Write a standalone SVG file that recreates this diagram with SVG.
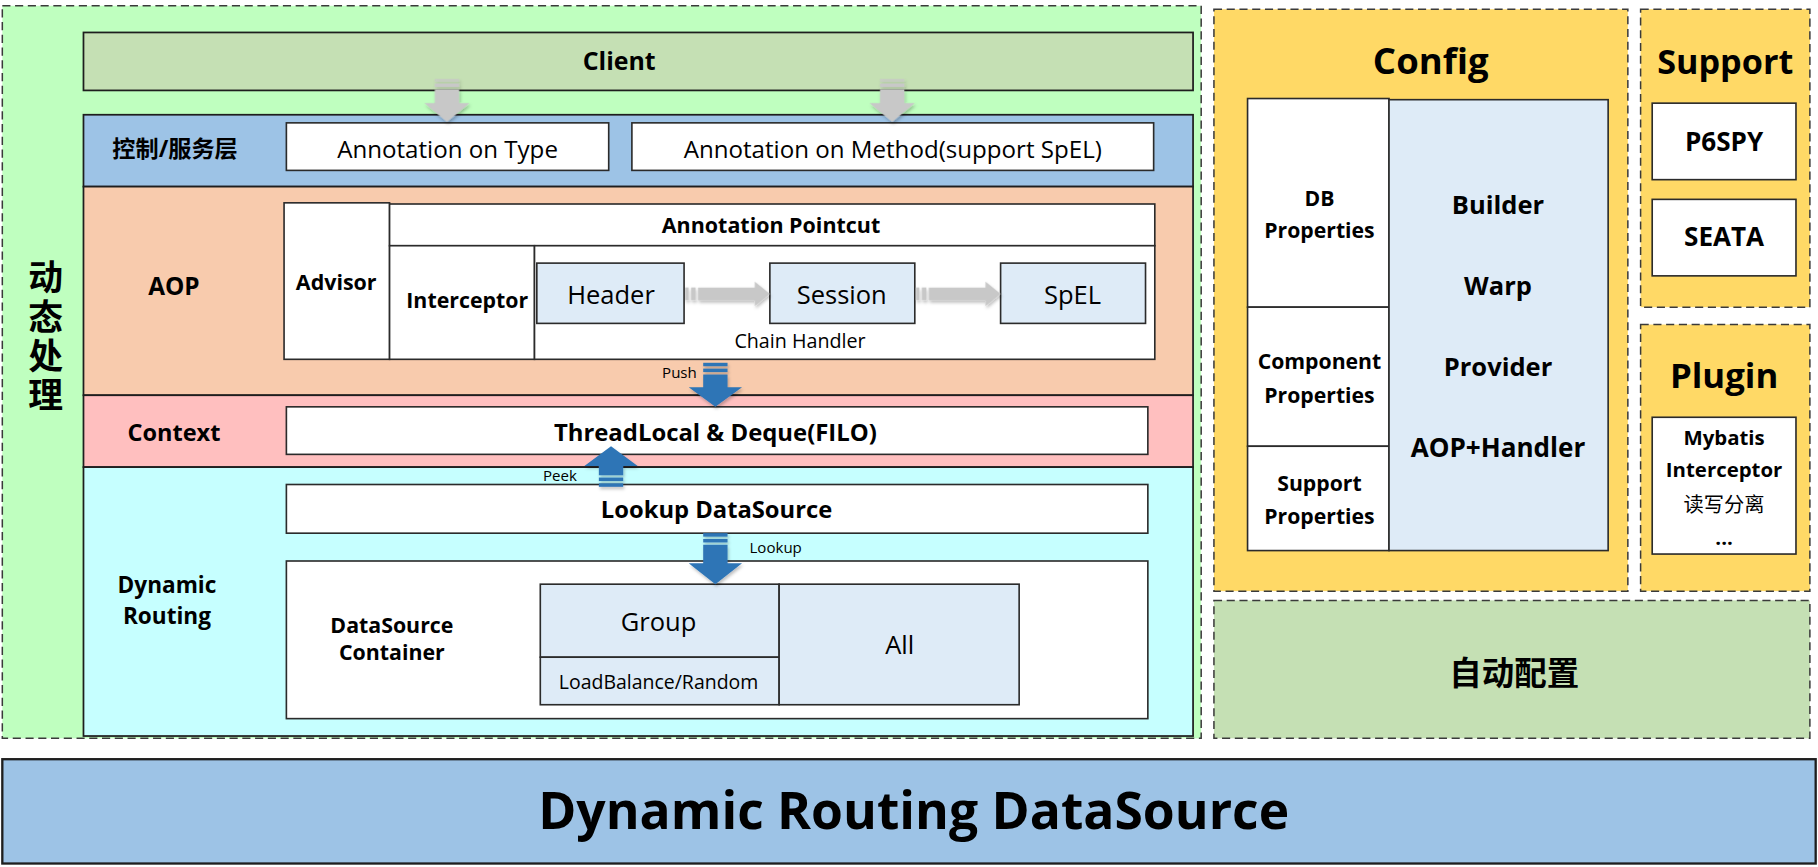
<svg xmlns="http://www.w3.org/2000/svg" width="1818" height="867" viewBox="0 0 1818 867">
<defs>
<style>
.t{font-family:"Open Sans","Noto Sans CJK SC",sans-serif;text-anchor:middle;dominant-baseline:central;fill:#000}
.b{font-weight:700}
.n{font-weight:400}
.dash{stroke:#3a3a3a;stroke-width:1.3;stroke-dasharray:7 4}
.bx{stroke:#2b2b2b;stroke-width:1.4}
.band{stroke:#1e1e1e;stroke-width:1.5}
.wh{fill:#fff}
.lb{fill:#DEEBF7}
.blue{fill:#2E75B6}
.gray{fill:#C8C8C8}
</style>
<filter id="sh" x="-30%" y="-30%" width="160%" height="160%">
<feDropShadow dx="1" dy="2" stdDeviation="1.5" flood-color="#000" flood-opacity="0.25"/>
</filter>
</defs>
<rect width="1818" height="867" fill="#fff"/>
<g transform="scale(1.15944,1.15909)">

<g id="dynamic-processing">
<rect x="2" y="5" width="1034" height="632" fill="#BFFFBF" class="dash"/>
<text class="t b" x="38" y="292" font-size="30" letter-spacing="4" style="writing-mode:vertical-rl">动态处理</text>
</g>

<g id="client">
<rect x="72" y="28" width="957" height="50" fill="#C5E0B4" class="band"/>
<text class="t b" x="534" y="52" font-size="21.5">Client</text>
</g>

<g id="service-layer">
<rect x="72" y="99" width="957" height="62" fill="#9DC3E6" class="band"/>
<text class="t b" x="151" y="128" font-size="20">控制/服务层</text>
</g>
<g id="annotation-type">
<rect x="247" y="106" width="278" height="41" class="wh bx"/>
<text class="t n" x="386" y="128" font-size="20.8">Annotation on Type</text>
</g>
<g id="annotation-method">
<rect x="545" y="106" width="450" height="41" class="wh bx"/>
<text class="t n" x="770" y="128" font-size="20.8">Annotation on Method(support SpEL)</text>
</g>

<g id="aop">
<rect x="72" y="161" width="957" height="180" fill="#F8CBAD" class="band"/>
<text class="t b" x="150" y="246" font-size="21">AOP</text>
</g>
<g id="advisor">
<rect x="245" y="175" width="91" height="135" class="wh bx"/>
<text class="t b" x="290" y="243" font-size="18.5">Advisor</text>
</g>
<g id="annotation-pointcut">
<rect x="336" y="176" width="660" height="36" class="wh bx"/>
<text class="t b" x="665" y="194" font-size="18.5">Annotation Pointcut</text>
</g>
<g id="interceptor">
<rect x="336" y="212" width="125" height="98" class="wh bx"/>
<text class="t b" x="403" y="258" font-size="18.4">Interceptor</text>
</g>
<g id="chain-handler">
<rect x="461" y="212" width="535" height="98" class="wh bx"/>
<text class="t n" x="690" y="294" font-size="17">Chain Handler</text>
</g>
<g id="header">
<rect x="463" y="227" width="127" height="52" class="lb bx"/>
<text class="t n" x="527" y="254" font-size="22">Header</text>
</g>
<g id="session">
<rect x="664" y="227" width="125" height="52" class="lb bx"/>
<text class="t n" x="726" y="254" font-size="22">Session</text>
</g>
<g id="spel">
<rect x="863" y="227" width="125" height="52" class="lb bx"/>
<text class="t n" x="925" y="254" font-size="22">SpEL</text>
</g>

<g id="context">
<rect x="72" y="341" width="957" height="62" fill="#FFBFBF" class="band"/>
<text class="t b" x="150" y="373" font-size="20.3">Context</text>
</g>
<g id="threadlocal">
<rect x="247" y="351" width="743" height="41" class="wh bx"/>
<text class="t b" x="617" y="372" font-size="20.6">ThreadLocal &amp; Deque(FILO)</text>
</g>

<g id="dynamic-routing">
<rect x="72" y="403" width="957" height="232" fill="#C6FFFF" class="band"/>
<text class="t b" x="144" y="504" font-size="19.5">Dynamic</text>
<text class="t b" x="144" y="531" font-size="19.5">Routing</text>
</g>
<g id="lookup-datasource">
<rect x="247" y="418" width="743" height="42" class="wh bx"/>
<text class="t b" x="618" y="439" font-size="20.5">Lookup DataSource</text>
</g>
<g id="datasource-container">
<rect x="247" y="484" width="743" height="136" class="wh bx"/>
<text class="t b" x="338" y="539" font-size="18.4">DataSource</text>
<text class="t b" x="338" y="562" font-size="18.4">Container</text>
</g>
<g id="group">
<rect x="466" y="504" width="206" height="63" class="lb bx"/>
<text class="t n" x="568" y="536" font-size="22">Group</text>
</g>
<g id="loadbalance">
<rect x="466" y="567" width="206" height="41" class="lb bx"/>
<text class="t n" x="568" y="588" font-size="16.8">LoadBalance/Random</text>
</g>
<g id="all">
<rect x="672" y="504" width="207" height="104" class="lb bx"/>
<text class="t n" x="776" y="556" font-size="22">All</text>
</g>

<g id="config">
<rect x="1047" y="8" width="357" height="502" fill="#FFD966" class="dash"/>
<text class="t b" x="1234" y="52" font-size="31.5">Config</text>
</g>
<g id="db-properties">
<rect x="1076" y="85" width="122" height="180" class="wh bx"/>
<text class="t b" x="1138" y="170" font-size="18.3">DB</text>
<text class="t b" x="1138" y="198" font-size="18.3">Properties</text>
</g>
<g id="component-properties">
<rect x="1076" y="265" width="122" height="120" class="wh bx"/>
<text class="t b" x="1138" y="311" font-size="18.3">Component</text>
<text class="t b" x="1138" y="340" font-size="18.3">Properties</text>
</g>
<g id="support-properties">
<rect x="1076" y="385" width="122" height="90" class="wh bx"/>
<text class="t b" x="1138" y="416" font-size="18.3">Support</text>
<text class="t b" x="1138" y="445" font-size="18.3">Properties</text>
</g>
<g id="builder">
<rect x="1198" y="86" width="189" height="389" class="lb bx"/>
<text class="t b" x="1292" y="176" font-size="22">Builder</text>
<text class="t b" x="1292" y="246" font-size="22">Warp</text>
<text class="t b" x="1292" y="316" font-size="22">Provider</text>
<text class="t b" x="1292" y="386" font-size="22.5">AOP+Handler</text>
</g>

<g id="support">
<rect x="1415" y="8" width="146" height="257" fill="#FFD966" class="dash"/>
<text class="t b" x="1488" y="52" font-size="29.5">Support</text>
</g>
<g id="p6spy">
<rect x="1425" y="89" width="124" height="66" class="wh bx"/>
<text class="t b" x="1487" y="122" font-size="22.5">P6SPY</text>
</g>
<g id="seata">
<rect x="1425" y="172" width="124" height="66" class="wh bx"/>
<text class="t b" x="1487" y="204" font-size="22.5">SEATA</text>
</g>

<g id="plugin">
<rect x="1415" y="280" width="146" height="230" fill="#FFD966" class="dash"/>
<text class="t b" x="1487" y="323" font-size="30">Plugin</text>
</g>
<g id="mybatis-interceptor">
<rect x="1425" y="360" width="124" height="118" class="wh bx"/>
<text class="t b" x="1487" y="377" font-size="17.6">Mybatis</text>
<text class="t b" x="1487" y="405" font-size="17.6">Interceptor</text>
<text class="t n" x="1487" y="435" font-size="17.5">读写分离</text>
<text class="t b" x="1487" y="463" font-size="17.6">...</text>
</g>

<g id="auto-config">
<rect x="1047" y="518" width="514" height="119" fill="#C5E0B4" class="dash"/>
<text class="t b" x="1306" y="580" font-size="28">自动配置</text>
</g>

<g id="dynamic-routing-datasource">
<rect x="2" y="655" width="1564" height="90" fill="#9DC3E6" stroke="#1e1e1e" stroke-width="2"/>
<text class="t b" x="788" y="698" font-size="44.5">Dynamic Routing DataSource</text>
</g>

<g id="connectors">
<g class="gray" filter="url(#sh)">
<rect x="375" y="68" width="21" height="2.5" opacity="0.7"/>
<rect x="375" y="72" width="21" height="3"/>
<path d="M375,77 H396 V89 H405 L385.5,105 L366,89 H375 Z"/>
<rect x="759" y="68" width="21" height="2.5" opacity="0.7"/>
<rect x="759" y="72" width="21" height="3"/>
<path d="M759,77 H780 V89 H789 L769.5,105 L750,89 H759 Z"/>
<rect x="591" y="248" width="3" height="11"/>
<rect x="596" y="248" width="4" height="11"/>
<path d="M602,248 H651 V243 L664,253.5 L651,264 V259 H602 Z"/>
<rect x="790" y="248" width="3" height="11"/>
<rect x="795" y="248" width="4" height="11"/>
<path d="M801,248 H850 V243 L863,253.5 L850,264 V259 H801 Z"/>
</g>
<g class="blue" filter="url(#sh)">
<rect x="606.5" y="313" width="21" height="3"/>
<rect x="606.5" y="318" width="21" height="3"/>
<path d="M606.5,323 H627.5 V334 H640 L617,351 L594,334 H606.5 Z"/>
<rect x="516.5" y="417" width="21" height="3"/>
<rect x="516.5" y="412" width="21" height="3"/>
<path d="M516.5,410 H537.5 V402 H550 L527,385 L504,402 H516.5 Z"/>
<rect x="606.5" y="460" width="21" height="3"/>
<rect x="606.5" y="465" width="21" height="3"/>
<path d="M606.5,470 H627.5 V486 H640 L617,504 L594,486 H606.5 Z"/>
</g>
<text class="t n" x="586" y="321" font-size="13">Push</text>
<text class="t n" x="483" y="410" font-size="13">Peek</text>
<text class="t n" x="669" y="472" font-size="13">Lookup</text>
</g>

</g>
</svg>
